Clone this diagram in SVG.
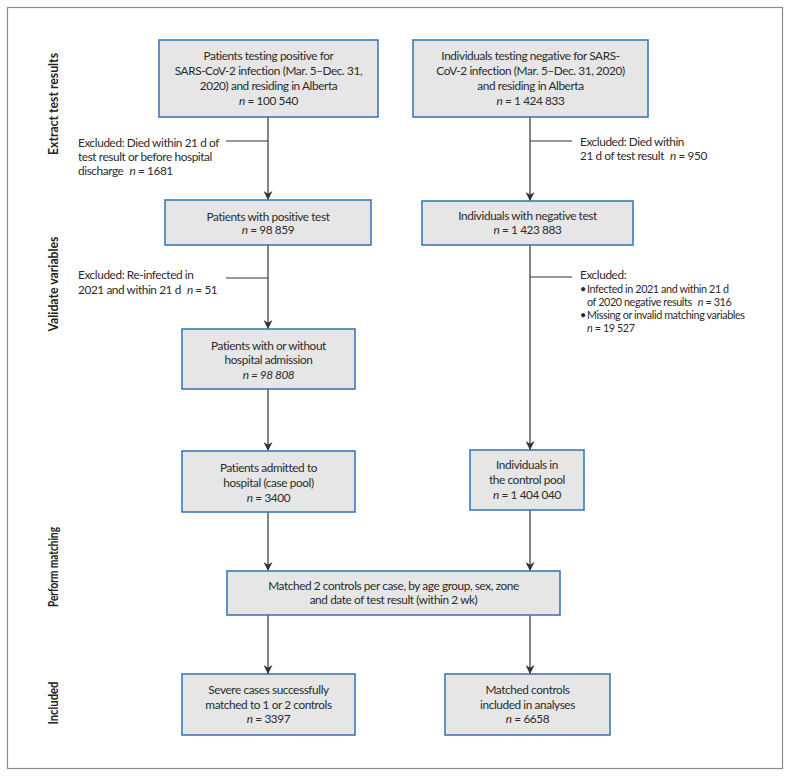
<svg xmlns="http://www.w3.org/2000/svg" width="791" height="776" viewBox="0 0 791 776">
<style>
.frame{fill:#ffffff;stroke:#8c8c8c;stroke-width:1.2}
.box{fill:#e6e6e6;stroke:#3d7ab8;stroke-width:1.6}
.t{font-family:Lato,"Liberation Sans",sans-serif;font-size:11.8px;letter-spacing:-0.4px;fill:#2b2b2b}
.c{text-anchor:middle}
.s{font-size:10.8px}
.side{font-family:Lato,"Liberation Sans",sans-serif;font-size:12.5px;font-weight:bold;fill:#222;text-anchor:middle}
.i{font-style:italic}
.ln{stroke:#333;stroke-width:1.2;fill:none}
.ar{stroke:#333;stroke-width:1.2;fill:none;marker-end:url(#ah)}
</style>
<defs>
<marker id="ah" viewBox="0 0 10 10" refX="10" refY="5" markerWidth="9" markerHeight="9" markerUnits="userSpaceOnUse" orient="auto">
<path d="M0,0 L10,5 L0,10 L3,5 z" fill="#333"/>
</marker>
</defs>
<rect class="frame" x="7.5" y="7.5" width="775" height="761"/>

<g id="side-labels">
<text class="side" transform="translate(58,104) rotate(-90)" textLength="102" lengthAdjust="spacingAndGlyphs">Extract test results</text>
<text class="side" transform="translate(58,284) rotate(-90)" textLength="95" lengthAdjust="spacingAndGlyphs">Validate variables</text>
<text class="side" transform="translate(58,567) rotate(-90)" textLength="80" lengthAdjust="spacingAndGlyphs">Perform matching</text>
<text class="side" transform="translate(58,703) rotate(-90)" textLength="43" lengthAdjust="spacingAndGlyphs">Included</text>
</g>

<g id="connectors">
<line class="ar" x1="268" y1="117" x2="268" y2="200"/>
<line class="ar" x1="530" y1="117" x2="530" y2="201"/>
<line class="ar" x1="268" y1="245" x2="268" y2="329"/>
<line class="ar" x1="530" y1="245" x2="530" y2="450"/>
<line class="ar" x1="268" y1="389" x2="268" y2="451"/>
<line class="ar" x1="268" y1="512" x2="268" y2="571"/>
<line class="ar" x1="530" y1="510" x2="530" y2="571"/>
<line class="ar" x1="268" y1="615" x2="268" y2="674"/>
<line class="ar" x1="530" y1="615" x2="530" y2="674"/>
<line class="ln" x1="226" y1="141" x2="268" y2="141"/>
<line class="ln" x1="530" y1="141" x2="572" y2="141"/>
<line class="ln" x1="226" y1="278" x2="268" y2="278"/>
<line class="ln" x1="530" y1="277" x2="572" y2="277"/>
</g>

<g id="n1">
<rect class="box" x="159" y="40" width="219" height="77"/>
<text class="t c" x="268.5" y="60">Patients testing positive for</text>
<text class="t c" x="268.5" y="75">SARS-CoV-2 infection (Mar. 5–Dec. 31,</text>
<text class="t c" x="268.5" y="90">2020) and residing in Alberta</text>
<text class="t c" x="268.5" y="104.5"><tspan class="i">n</tspan> = 100 540</text>
</g>

<g id="n2">
<rect class="box" x="413" y="40" width="235" height="77"/>
<text class="t c" x="530.5" y="60">Individuals testing negative for SARS-</text>
<text class="t c" x="530.5" y="75">CoV-2 infection (Mar. 5–Dec. 31, 2020)</text>
<text class="t c" x="530.5" y="90">and residing in Alberta</text>
<text class="t c" x="530.5" y="104.5"><tspan class="i">n</tspan> = 1 424 833</text>
</g>

<g id="ex1">
<text class="t" x="78" y="147">Excluded: Died within 21 d of</text>
<text class="t" x="78" y="161">test result or before hospital</text>
<text class="t" x="78" y="175">discharge<tspan class="i" dx="6">n</tspan> = 1681</text>
</g>

<g id="ex2">
<text class="t" x="580" y="145.5">Excluded: Died within</text>
<text class="t" x="580" y="160">21 d of test result<tspan class="i" dx="6">n</tspan> = 950</text>
</g>

<g id="n3">
<rect class="box" x="165" y="200" width="206" height="45"/>
<text class="t c" x="268" y="220.5">Patients with positive test</text>
<text class="t c" x="268" y="234"><tspan class="i">n</tspan> = 98 859</text>
</g>

<g id="n4">
<rect class="box" x="422" y="201" width="211" height="44"/>
<text class="t c" x="527.5" y="220">Individuals with negative test</text>
<text class="t c" x="527.5" y="234"><tspan class="i">n</tspan> = 1 423 883</text>
</g>

<g id="ex3">
<text class="t" x="78" y="278.5">Excluded: Re-infected in</text>
<text class="t" x="78" y="294">2021 and within 21 d<tspan class="i" dx="6">n</tspan> = 51</text>
</g>

<g id="ex4">
<text class="t" x="580" y="279">Excluded:</text>
<text class="t s" x="580" y="293">•</text>
<text class="t s" x="587" y="293">Infected in 2021 and within 21 d</text>
<text class="t s" x="587" y="306">of 2020 negative results<tspan class="i" dx="6">n</tspan> = 316</text>
<text class="t s" x="580" y="319">•</text>
<text class="t s" x="587" y="319">Missing or invalid matching variables</text>
<text class="t s" x="587" y="332"><tspan class="i">n</tspan> = 19 527</text>
</g>

<g id="n5">
<rect class="box" x="182" y="329" width="173" height="60"/>
<text class="t c" x="268.5" y="350">Patients with or without</text>
<text class="t c" x="268.5" y="364">hospital admission</text>
<text class="t c i" x="268.5" y="379">n = 98 808</text>
</g>

<g id="n6">
<rect class="box" x="182" y="451" width="173" height="61"/>
<text class="t c" x="268.5" y="472">Patients admitted to</text>
<text class="t c" x="268.5" y="486.5">hospital (case pool)</text>
<text class="t c" x="268.5" y="501.5"><tspan class="i">n</tspan> = 3400</text>
</g>

<g id="n7">
<rect class="box" x="470" y="450" width="114" height="60"/>
<text class="t c" x="527" y="469">Individuals in</text>
<text class="t c" x="527" y="484">the control pool</text>
<text class="t c" x="527" y="499"><tspan class="i">n</tspan> = 1 404 040</text>
</g>

<g id="n8">
<rect class="box" x="227" y="571" width="333" height="44"/>
<text class="t c" x="393.5" y="590">Matched 2 controls per case, by age group, sex, zone</text>
<text class="t c" x="393.5" y="604">and date of test result (within 2 wk)</text>
</g>

<g id="n9">
<rect class="box" x="182" y="674" width="173" height="61"/>
<text class="t c" x="268.5" y="694">Severe cases successfully</text>
<text class="t c" x="268.5" y="708.5">matched to 1 or 2 controls</text>
<text class="t c" x="268.5" y="723"><tspan class="i">n</tspan> = 3397</text>
</g>

<g id="n10">
<rect class="box" x="445" y="674" width="165" height="61"/>
<text class="t c" x="527.5" y="694">Matched controls</text>
<text class="t c" x="527.5" y="708.5">included in analyses</text>
<text class="t c" x="527.5" y="723"><tspan class="i">n</tspan> = 6658</text>
</g>
</svg>
